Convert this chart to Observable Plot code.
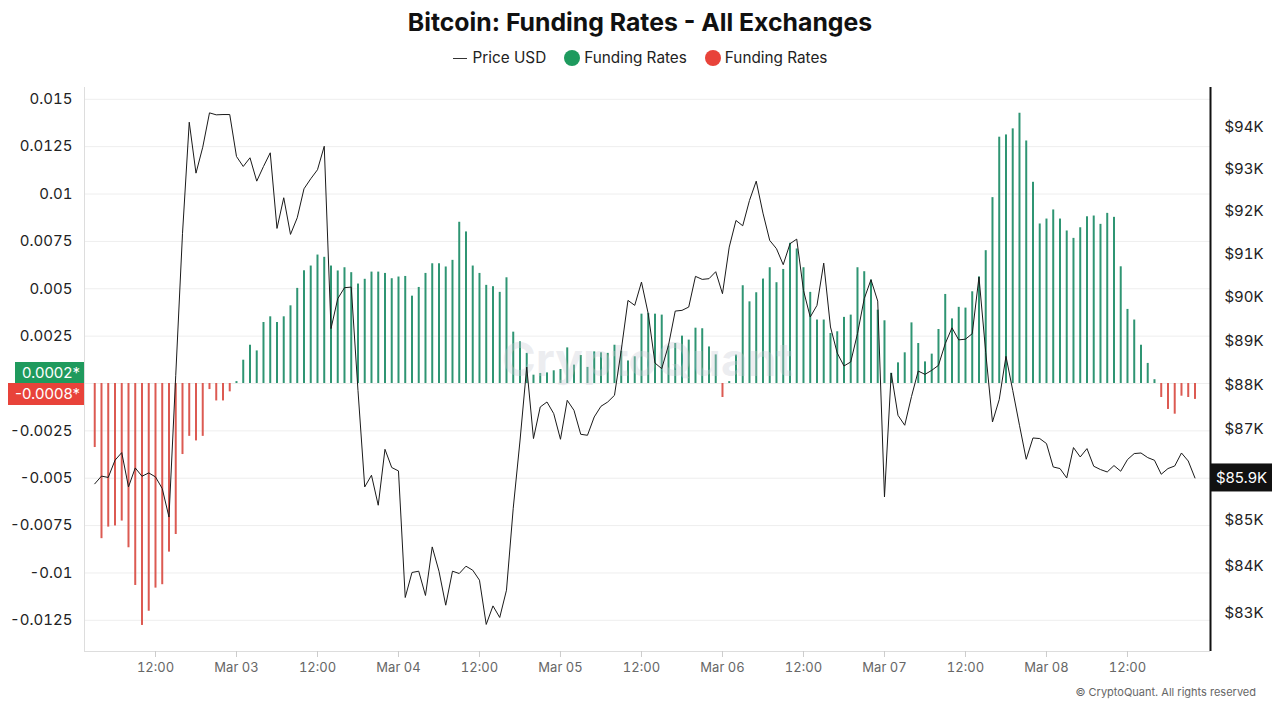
<!DOCTYPE html>
<html>
<head>
<meta charset="utf-8">
<script src="https://cdn.jsdelivr.net/npm/d3@7"></script>
<script src="https://cdn.jsdelivr.net/npm/@observablehq/plot@0.6"></script>
<style>
  html, body { margin: 0; padding: 0; background: #fff; }
  body { width: 1280px; height: 705px; overflow: hidden; position: relative; font-family: Inter, "Noto Sans", sans-serif; }
  #title { position: absolute; top: 6px; left: 0; width: 1280px; text-align: center; font-size: 24.8px; font-weight: 700; color: #111; line-height: 32px; }
  #legend { position: absolute; top: 47px; left: 0; width: 1280px; display: flex; justify-content: center; align-items: center; font-size: 15.3px; color: #222; line-height: 22px; }
  #legend .item { display: flex; align-items: center; margin: 0 9px; }
  #legend .dash { display: inline-block; width: 14px; height: 0; border-top: 1px solid #333; margin-right: 6px; }
  #legend .dot { display: inline-block; width: 16px; height: 16px; border-radius: 50%; margin-right: 4px; }
  #chart { position: absolute; top: 80px; left: 0; }
  #caption { position: absolute; right: 24px; top: 685px; font-size: 11px; color: #666; }
</style>
</head>
<body>
<div id="title">Bitcoin: Funding Rates - All Exchanges</div>
<div id="legend">
  <span class="item"><span class="dash"></span>Price USD</span>
  <span class="item"><span class="dot" style="background:#1e9a5e"></span>Funding Rates</span>
  <span class="item"><span class="dot" style="background:#e8433a"></span>Funding Rates</span>
</div>
<div id="chart"></div>
<div id="caption">© CryptoQuant. All rights reserved</div>
<script>
// ---- Data (hourly, Mar 2 03:00 UTC .. Mar 8 22:00 UTC) ----
const startHour = Date.UTC(2025, 2, 2, 3);
const endHourExclusive = Date.UTC(2025, 2, 8, 23);

const fundingRates = [
  -0.00338,-0.00819,-0.00758,-0.00752,-0.00726,-0.00867,-0.01066,-0.01277,-0.01202,-0.0108,-0.01062,-0.0089,
  -0.00797,-0.00375,-0.00279,-0.00303,-0.00279,-0.00032,-0.00092,-0.00092,-0.00044,0.0001,
  0.00123,0.00202,0.00172,0.00322,0.00352,0.00322,0.00352,0.0041,0.00502,0.00595,0.0062,0.00678,
  0.00666,0.0062,0.00594,0.00611,0.00585,0.00525,0.0055,0.00588,0.00588,0.00581,0.00553,0.00562,
  0.00565,0.00461,0.00507,0.00581,0.00632,0.00632,0.00615,0.0065,0.00851,0.008,0.0062,0.00581,
  0.00518,0.00511,0.00481,0.00558,0.00271,0.0022,0.00159,0.00044,0.00053,0.00056,0.00067,0.00074,
  0.00188,0.00097,0.00148,0.00085,0.00167,0.00162,0.00159,0.00202,0.00171,0.00119,0.00141,0.00366,
  0.0037,0.00366,0.00361,0.00199,0.00211,0.0025,0.00229,0.00292,0.00289,0.00193,0.00151,-0.00074,
  0.0001,0.0015,0.00516,0.00431,0.00479,0.00551,0.00611,0.00532,0.00602,0.0074,0.0071,0.00611,
  0.00481,0.00335,0.00335,0.00264,0.00273,0.00349,0.00361,0.00611,0.0059,0.00546,0.00387,0.00331,
  0.00054,0.00109,0.00162,0.0032,0.00211,0.00114,0.00155,0.00285,0.0047,0.00341,0.00402,0.00398,
  0.00484,0.00563,0.00701,0.00981,0.013,0.01312,0.01344,0.01427,0.0128,0.01062,0.00842,0.00868,
  0.00916,0.00868,0.00805,0.00766,0.00822,0.0088,0.00884,0.0084,0.00898,0.00877,0.00616,0.00391,
  0.00335,0.00202,0.00106,0.0002,-0.00074,-0.00137,-0.00162,-0.00067,-0.00074,-0.00084
];

const prices = [
  85800,85970,85940,86319,86489,85732,86150,85967,86040,85952,85696,85074,
  88216,91472,94120,92901,93520,94346,94298,94305,94305,93298,
  93060,93267,92711,93060,93386,91596,92318,91456,91846,92530,92767,92982,
  93543,89277,89963,90217,90231,87878,85732,85989,85331,86562,86159,86084,
  83340,83875,83903,83383,84426,83903,83176,83903,83853,84010,83924,83710,
  82767,83161,82915,83496,85265,86746,88404,86800,87504,87616,87356,86784,
  87654,87430,86895,86873,87281,87520,87616,87766,88782,89924,89810,90347,
  89619,88494,88367,88895,89679,89695,89771,90479,90409,90425,90587,90079,
  91159,91783,91658,92254,92711,91955,91315,91122,90750,91238,91345,90155,
  89542,89810,90786,89314,88722,88428,88518,89161,89963,90402,89908,85513,
  88268,87319,87096,87737,88313,88238,88329,88442,88934,89295,89020,89036,
  89161,90462,88737,87169,87670,88646,87878,87096,86341,86813,86800,86689,
  86171,86136,85929,86600,86392,86577,86187,86114,86061,86202,86077,86334,
  86467,86480,86378,86319,86011,86136,86193,86480,86303,85929
];

const leftTicks = [0.015, 0.0125, 0.01, 0.0075, 0.005, 0.0025, -0.0025, -0.005, -0.0075, -0.01, -0.0125];
const gridTicks = [0.015, 0.0125, 0.01, 0.0075, 0.005, 0.0025, 0, -0.0025, -0.005, -0.0075, -0.01, -0.0125];
// $86K is hidden behind the last-price box in the reference
const priceTicks = [83000, 84000, 85000, 87000, 88000, 89000, 90000, 91000, 92000, 93000, 94000];

// ---- Scales ----
const xStart = new Date(Date.UTC(2025, 2, 2, 1, 29));
const xEnd = new Date(Date.UTC(2025, 2, 9, 0, 18));
const xTicks = d3.utcHour.every(12).range(new Date(Date.UTC(2025, 2, 2, 12)), new Date(Date.UTC(2025, 2, 8, 13)));
const yLo = -0.014145, yHi = 0.015623;
const pLo = 82196, pHi = 94960; // log-scaled price axis mapped onto the funding axis
const lnLo = Math.log(pLo), lnHi = Math.log(pHi);
const toY = p => yLo + (Math.log(p) - lnLo) / (lnHi - lnLo) * (yHi - yLo);
const fromY = v => Math.exp(lnLo + (v - yLo) / (yHi - yLo) * (lnHi - lnLo));

const GREEN = "#2f9573";
const RED = "#dc5a52";

const times = d3.utcHour.range(new Date(startHour), new Date(endHourExclusive));
const data = times.map((t, i) => ({time: t, rate: fundingRates[i], price: prices[i]}));
const pos = data.filter(d => d.rate >= 0);
const neg = data.filter(d => d.rate < 0);

const chart = Plot.plot({
  width: 1280,
  height: 600,
  marginTop: 7,
  marginBottom: 29,
  marginLeft: 84,
  marginRight: 70,
  style: {fontFamily: "Inter, 'Noto Sans', sans-serif", fontSize: "15px", background: "transparent", color: "#222"},
  x: {type: "utc", domain: [xStart, xEnd]},
  y: {domain: [yLo, yHi]},
  marks: [
    Plot.gridY(gridTicks, {stroke: "#eeeeee", strokeOpacity: 1}),
    Plot.ruleY([yLo], {stroke: "#dddddd"}),
    Plot.ruleX([xStart], {stroke: "#dddddd"}),
    Plot.ruleX(pos, {x: "time", y1: 0, y2: "rate", stroke: GREEN, strokeWidth: 2}),
    Plot.ruleX(neg, {x: "time", y1: 0, y2: "rate", stroke: RED, strokeWidth: 2}),
    Plot.text(["CryptoQuant"], {text: d => d, frameAnchor: "middle", dy: -8, fontSize: 46, fontWeight: 700, fill: "#c9cbd6", fillOpacity: 0.35}),
    Plot.line(data, {x: "time", y: d => toY(d.price), stroke: "#1a1a1a", strokeWidth: 1}),
    Plot.ruleX([xEnd], {stroke: "#111", strokeWidth: 2}),
    Plot.axisX({ticks: xTicks, tickSize: 6, tickPadding: 5, stroke: "#cccccc", fill: "#666", label: null,
      fontSize: 13, tickFormat: d => d.getUTCHours() === 12 ? "12:00" : d3.utcFormat("%b %d")(d)}),
    Plot.axisY({anchor: "left", ticks: leftTicks, tickSize: 0, tickPadding: 12, label: null, tickFormat: d => String(d)}),
    Plot.axisY(priceTicks.map(toY), {anchor: "right", tickSize: 0, tickPadding: 14, label: null,
      tickFormat: d => "$" + Math.round(fromY(d) / 1000) + "K"})
  ]
});
document.getElementById("chart").appendChild(chart);

// ---- Last-value labels, placed through the plot's own scales ----
const ys = chart.scale("y");
const xs = chart.scale("x");
const y0 = ys.apply(0);
const frameLeft = xs.range[0], frameRight = xs.range[1];
const svg = d3.select(chart);
const g = svg.append("g").attr("font-family", "Inter, 'Noto Sans', sans-serif").attr("font-size", 15);

const lastPos = pos[pos.length - 1].rate;
const lastNeg = neg[neg.length - 1].rate;
g.append("rect").attr("x", frameLeft - 69).attr("y", y0 - 21).attr("width", 69).attr("height", 21).attr("fill", "#1f9a5d");
g.append("text").attr("x", frameLeft - 4).attr("y", y0 - 10.5).attr("dy", "0.35em").attr("text-anchor", "end").attr("fill", "#fff").text(lastPos.toFixed(4) + "*");
g.append("rect").attr("x", frameLeft - 76).attr("y", y0).attr("width", 76).attr("height", 22).attr("fill", "#e8433a");
g.append("text").attr("x", frameLeft - 4).attr("y", y0 + 11).attr("dy", "0.35em").attr("text-anchor", "end").attr("fill", "#fff").text(lastNeg.toFixed(4) + "*");

const lastPrice = prices[prices.length - 1];
const yp = ys.apply(toY(lastPrice));
g.append("rect").attr("x", frameRight + 1).attr("y", yp - 14).attr("width", 61).attr("height", 28).attr("fill", "#111");
g.append("text").attr("x", frameRight + 31.5).attr("y", yp).attr("dy", "0.35em").attr("text-anchor", "middle").attr("fill", "#fff").text("$" + (lastPrice / 1000).toFixed(1) + "K");
</script>
</body>
</html>
